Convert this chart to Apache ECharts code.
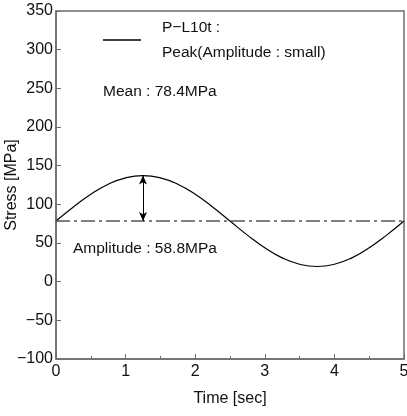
<!DOCTYPE html>
<html>
<head>
<meta charset="utf-8">
<script src="https://cdn.jsdelivr.net/npm/echarts@6/dist/echarts.min.js"></script>
<style>
  html, body { margin: 0; padding: 0; background: #fff; }
  #chart { width: 407px; height: 416px; }
</style>
</head>
<body>
<div id="chart"></div>
<script>
// values
var timeSec = [0, 0.25, 0.5, 0.75, 1, 1.25, 1.5, 1.75, 2, 2.25, 2.5, 2.75, 3, 3.25, 3.5, 3.75, 4, 4.25, 4.5, 4.75, 5];
var stress = [78.4, 96.6, 113.0, 126.0, 134.3, 137.2, 134.3, 126.0, 113.0, 96.6, 78.4, 60.2, 43.8, 30.8, 22.5, 19.6, 22.5, 30.8, 43.8, 60.2, 78.4];
var meanStress = 78.4;
var peakTime = 1.25;
var peakStress = 137.2;
var seriesName = 'P\u2212L10t :\nPeak(Amplitude : small)';

var chart = echarts.init(document.getElementById('chart'));
var font = 'Liberation Sans, Arial, sans-serif';
var axisColor = '#6e6e6e';

var points = timeSec.map(function (t, i) { return [t, stress[i]]; });

var option = {
  animation: false,
  grid: {
    left: 56, right: 3, top: 11, bottom: 57,
    outerBoundsMode: 'none',
    containLabel: false,
    show: true, borderColor: axisColor, borderWidth: 1.5
  },
  legend: {
    left: 103, top: 15, padding: 0,
    orient: 'vertical',
    icon: 'rect',
    itemWidth: 38, itemHeight: 1.3,
    itemStyle: { color: '#000' },
    textStyle: { fontFamily: font, fontSize: 15.5, color: '#111', lineHeight: 25, padding: [0, 0, 0, 16] },
    data: [seriesName]
  },
  xAxis: {
    type: 'value', min: 0, max: 5, interval: 1,
    name: 'Time [sec]', nameLocation: 'middle', nameGap: 32,
    nameMoveOverlap: false,
    nameTextStyle: { fontFamily: font, fontSize: 16, color: '#111' },
    axisLine: { onZero: false, lineStyle: { color: axisColor, width: 1.5 } },
    axisTick: { inside: true, length: 5, lineStyle: { color: axisColor } },
    minorTick: { show: true, splitNumber: 2, length: 3, lineStyle: { color: axisColor } },
    splitLine: { show: false },
    axisLabel: { fontFamily: font, fontSize: 16, color: '#111', margin: 5 }
  },
  yAxis: {
    type: 'value', min: -100, max: 350, interval: 50,
    name: 'Stress [MPa]', nameLocation: 'middle', nameGap: 36,
    nameMoveOverlap: false,
    nameTextStyle: { fontFamily: font, fontSize: 16, color: '#111' },
    axisLine: { onZero: false, lineStyle: { color: axisColor, width: 1.5 } },
    axisTick: { inside: true, length: 5, lineStyle: { color: axisColor } },
    splitLine: { show: false },
    axisLabel: {
      fontFamily: font, fontSize: 16, color: '#111', margin: 3,
      formatter: function (v) { return String(v).replace('-', '\u2212'); }
    }
  },
  series: [
    {
      name: seriesName,
      type: 'line',
      data: points,
      smooth: true,
      symbol: 'none',
      lineStyle: { color: '#000', width: 1.2 },
      markLine: {
        silent: true,
        symbol: 'none',
        label: { show: false },
        lineStyle: { color: '#555', width: 1.5, type: [14, 4, 3, 4] },
        data: [{ yAxis: meanStress }]
      }
    },
    {
      type: 'line',
      data: [],
      markLine: {
        silent: true,
        symbol: ['arrow', 'arrow'],
        symbolSize: [6, 9],
        label: { show: false },
        lineStyle: { color: '#000', width: 1, type: 'solid' },
        data: [[{ coord: [peakTime, meanStress] }, { coord: [peakTime, peakStress] }]]
      }
    }
  ],
  graphic: [
    {
      type: 'text', left: 103, top: 84,
      style: { text: 'Mean : 78.4MPa', font: '15.5px ' + font, fill: '#111' }
    },
    {
      type: 'text', left: 73, top: 241,
      style: { text: 'Amplitude : 58.8MPa', font: '15.5px ' + font, fill: '#111' }
    }
  ]
};

chart.setOption(option);
</script>
</body>
</html>
